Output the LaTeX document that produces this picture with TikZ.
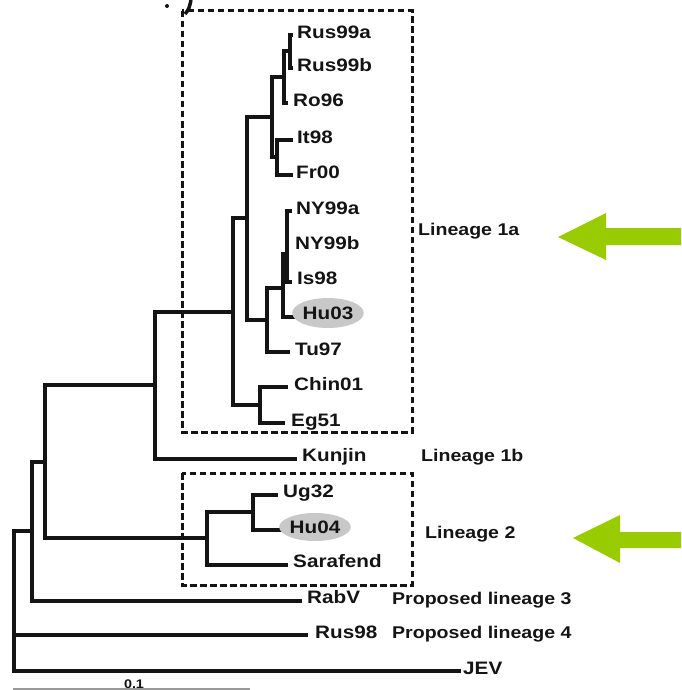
\documentclass[tikz,border=0pt]{standalone}
\usepackage{fontspec}
\setmainfont{Liberation Sans}[FakeStretch=1.15]
\usetikzlibrary{shapes.geometric}
\definecolor{ink}{HTML}{141414}
\definecolor{lime}{HTML}{99CC00}
\definecolor{hilite}{HTML}{C8C8C8}
\begin{document}
\begin{tikzpicture}[x=1pt,y=-1pt,
  branch/.style={draw=ink,line width=3.2pt,line join=miter},
  leaf/.style={anchor=base west,inner sep=0pt,text=ink,font=\fontsize{18}{20}\selectfont\bfseries},
  lineage/.style={anchor=base west,inner sep=0pt,text=ink,font=\fontsize{17}{19}\selectfont\bfseries},
  marked/.style={ellipse,fill=hilite,inner sep=0pt,text=ink,font=\fontsize{18}{20}\selectfont\bfseries},
  cladebox/.style={draw=ink,line width=3pt,dash pattern=on 6.5pt off 3.5pt},
  pointer/.style={fill=lime}]
\useasboundingbox (0,0) rectangle (681,690);

% stray fragment of a panel letter at the top edge
\fill[ink] (167,6) circle (2);
\draw[ink,line width=3.5pt] (185,14) .. controls (189,9) .. (191,0);

% clade boxes
\draw[cladebox] (182,11) rectangle (412,432);
\draw[cladebox] (182,473) rectangle (412,585);

% leaf tips
\coordinate (tRus99a) at (293,35);
\coordinate (tRus99b) at (293,68);
\coordinate (tRo96) at (288,103);
\coordinate (tIt98) at (293,140);
\coordinate (tFr00) at (293,175);
\coordinate (tNY99a) at (292,211);
\coordinate (tNY99b) at (288,246);
\coordinate (tIs98) at (292,282);
\coordinate (tHu03) at (297,317);
\coordinate (tTu97) at (290,352);
\coordinate (tChin01) at (288,387);
\coordinate (tEg51) at (285,423);
\coordinate (tKunjin) at (297,459);
\coordinate (tUg32) at (278,495);
\coordinate (tHu04) at (284,530);
\coordinate (tSarafend) at (288,565);
\coordinate (tRabV) at (302,601);
\coordinate (tRus98) at (308,635);
\coordinate (tJEV) at (461,671);

% internal nodes
\coordinate (nA) at (290,51);
\coordinate (nB) at (284,77);
\coordinate (nC) at (277,157);
\coordinate (nD) at (272,117);
\coordinate (nE) at (287,254);
\coordinate (nF) at (283,288);
\coordinate (nG) at (267,320);
\coordinate (nH) at (247,218);
\coordinate (nI) at (260,405);
\coordinate (nJ) at (233,312);
\coordinate (nK) at (155,385);
\coordinate (nL) at (253,512);
\coordinate (nL2) at (207,538);
\coordinate (nM) at (45,462);
\coordinate (nN) at (32,531);
\coordinate (nR) at (14,600);

% branches
\draw[branch] (nA) |- (tRus99a);
\draw[branch] (nA) |- (tRus99b);
\draw[branch] (nB) |- (nA);
\draw[branch] (nB) |- (tRo96);
\draw[branch] (nC) |- (tIt98);
\draw[branch] (nC) |- (tFr00);
\draw[branch] (nD) |- (nB);
\draw[branch] (nD) |- (nC);
\draw[branch] (nE) |- (tNY99a);
\draw[branch] (nE) |- (tNY99b);
\draw[branch] (nE) |- (tIs98);
\draw[branch] (nF) |- (nE);
\draw[branch] (nF) |- (tHu03);
\draw[branch] (nG) |- (nF);
\draw[branch] (nG) |- (tTu97);
\draw[branch] (nH) |- (nD);
\draw[branch] (nH) |- (nG);
\draw[branch] (nI) |- (tChin01);
\draw[branch] (nI) |- (tEg51);
\draw[branch] (nJ) |- (nH);
\draw[branch] (nJ) |- (nI);
\draw[branch] (nK) |- (nJ);
\draw[branch] (nK) |- (tKunjin);
\draw[branch] (nL) |- (tUg32);
\draw[branch] (nL) |- (tHu04);
\draw[branch] (nL2) |- (nL);
\draw[branch] (nL2) |- (tSarafend);
\draw[branch] (nM) |- (nK);
\draw[branch] (nM) |- (nL2);
\draw[branch] (nN) |- (nM);
\draw[branch] (nN) |- (tRabV);
\draw[branch] (nR) |- (nN);
\draw[branch] (nR) |- (tRus98);
\draw[branch] (nR) |- (tJEV);

% leaf labels
\node[leaf] (lRus99a) at (297,38.5) {Rus99a};
\node[leaf] (lRus99b) at (297,71.5) {Rus99b};
\node[leaf] (lRo96) at (293,106.5) {Ro96};
\node[leaf] (lIt98) at (297,143.5) {It98};
\node[leaf] (lFr00) at (296,178.5) {Fr00};
\node[leaf] (lNY99a) at (296,214.5) {NY99a};
\node[leaf] (lNY99b) at (295,249.5) {NY99b};
\node[leaf] (lIs98) at (297,284.5) {Is98};
\node[marked,minimum width=67pt,minimum height=30pt] (lHu03) at (328,313) {Hu03};
\node[leaf] (lTu97) at (295,355.5) {Tu97};
\node[leaf] (lChin01) at (294,390.5) {Chin01};
\node[leaf] (lEg51) at (291,426.5) {Eg51};
\node[leaf] (lKunjin) at (302,461) {Kunjin};
\node[leaf] (lUg32) at (283,497.5) {Ug32};
\node[marked,minimum width=65pt,minimum height=28pt] (lHu04) at (315,527) {Hu04};
\node[leaf] (lSarafend) at (293,567.5) {Sarafend};
\node[leaf] (lRabV) at (307,603.5) {RabV};
\node[leaf] (lRus98) at (315,638.5) {Rus98};
\node[leaf] (lJEV) at (463,674.5) {JEV};

% lineage labels
\node[lineage] (g1a) at (418,235) {Lineage 1a};
\node[lineage] (g1b) at (421,461.5) {Lineage 1b};
\node[lineage] (g2) at (425,538) {Lineage 2};
\node[lineage] (g3) at (392,604) {Proposed lineage 3};
\node[lineage] (g4) at (392,638) {Proposed lineage 4};

% highlight arrows
\fill[pointer] (558,237) -- (606,213) -- (606,228) -- (681,228) -- (681,245) -- (606,245) -- (606,260) -- cycle;
\fill[pointer] (573,538) -- (620,515) -- (620,532) -- (681,532) -- (681,548) -- (620,548) -- (620,563) -- cycle;

% scale bar
\draw[draw=gray!80,line width=1.3pt] (13,689) -- (250,689);
\node[anchor=base,inner sep=0pt,text=ink,font=\fontsize{12.5}{14}\selectfont\bfseries] (scale) at (134,688) {0.1};
\end{tikzpicture}
\end{document}
